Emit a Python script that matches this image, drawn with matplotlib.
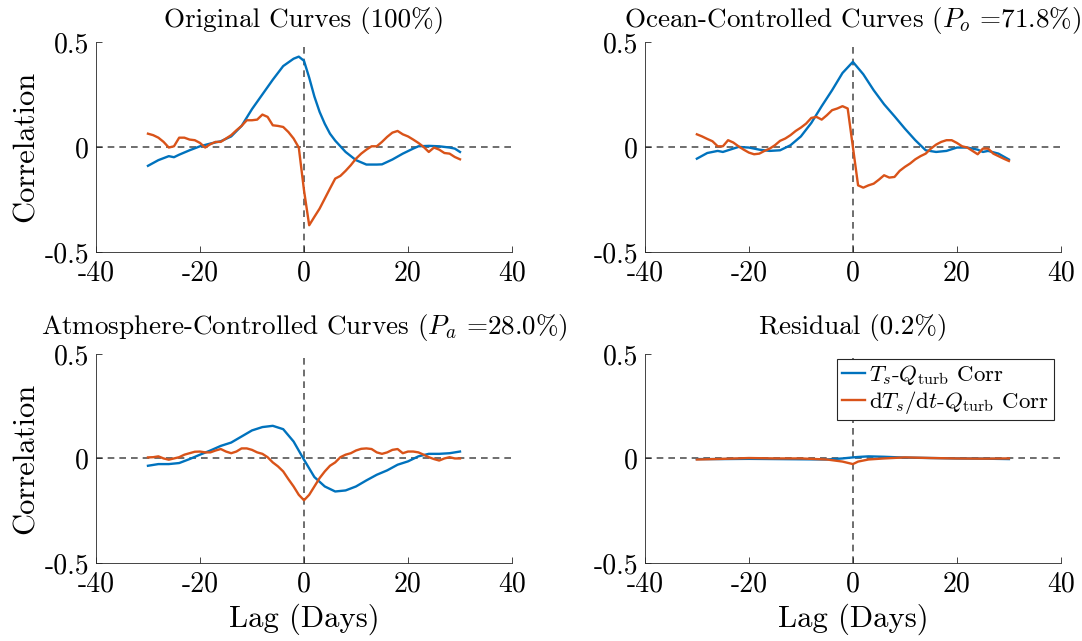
import matplotlib
matplotlib.use('Agg')
import matplotlib.pyplot as plt
import numpy as np

# values
lag_day = list(range(-30, 31))

orig_ts_lag = [-30, -28, -26, -25, -24, -22, -20, -18, -16, -14, -12, -10, -8, -6, -4, -2, -1, 0,
               1, 2, 3, 4, 5, 6, 7, 8, 10, 12, 14, 15, 17, 19, 21, 22, 24, 26, 28, 29, 30]
orig_ts = [-0.09, -0.063, -0.044, -0.049, -0.037, -0.016, 0.003, 0.016, 0.027, 0.05, 0.10, 0.18,
           0.25, 0.32, 0.385, 0.42, 0.43, 0.41, 0.33, 0.24, 0.167, 0.11, 0.063, 0.03, 0.003,
           -0.024, -0.063, -0.084, -0.084, -0.083, -0.06, -0.032, -0.008, 0.003, 0.005, 0.003,
           -0.003, -0.008, -0.024]
orig_dt = [0.063, 0.056, 0.044, 0.024, -0.003, 0.003, 0.044, 0.044, 0.035, 0.032, 0.019, -0.003,
           0.013, 0.024, 0.024, 0.04, 0.056, 0.079, 0.10, 0.127, 0.127, 0.13, 0.154, 0.143, 0.103,
           0.10, 0.095, 0.071, 0.04, -0.003, -0.206, -0.373, -0.333, -0.294, -0.246, -0.198,
           -0.151, -0.138, -0.114, -0.087, -0.056, -0.032, -0.013, 0.003, 0.003, 0.024, 0.048,
           0.068, 0.076, 0.06, 0.05, 0.035, 0.019, 0.0, -0.024, -0.003, -0.013, -0.029, -0.032,
           -0.048, -0.059]

ocean_ts_lag = [-30, -28, -26, -25, -24, -22, -20, -18, -16, -14, -12, -10, -8, -6, -4, -2, 0,
                2, 4, 6, 8, 10, 12, 14, 16, 18, 20, 22, 24, 25, 26, 28, 30]
ocean_ts = [-0.056, -0.029, -0.019, -0.024, -0.016, 0.0, -0.003, -0.013, -0.019, -0.016, 0.008,
            0.05, 0.114, 0.194, 0.27, 0.352, 0.405, 0.346, 0.27, 0.203, 0.146, 0.087, 0.032,
            -0.016, -0.024, -0.019, -0.003, -0.003, -0.013, -0.024, -0.019, -0.032, -0.06]
ocean_dt = [0.06, 0.05, 0.038, 0.027, 0.003, 0.003, 0.032, 0.021, 0.003, -0.013, -0.027, -0.035,
            -0.032, -0.019, -0.008, 0.008, 0.029, 0.04, 0.056, 0.076, 0.092, 0.111, 0.138, 0.143,
            0.13, 0.151, 0.175, 0.183, 0.194, 0.183, 0.0, -0.183, -0.194, -0.183, -0.175, -0.156,
            -0.135, -0.146, -0.143, -0.114, -0.095, -0.079, -0.059, -0.044, -0.032, -0.008, 0.011,
            0.024, 0.032, 0.032, 0.019, 0.003, -0.003, -0.019, -0.035, -0.008, -0.008, -0.032,
            -0.044, -0.056, -0.067]

atm_ts_lag = list(range(-30, 31, 2))
atm_ts = [-0.035, -0.027, -0.027, -0.022, -0.003, 0.018, 0.038, 0.06, 0.076, 0.105, 0.134, 0.15,
          0.156, 0.14, 0.081, -0.006, -0.089, -0.134, -0.158, -0.153, -0.134, -0.105, -0.078,
          -0.057, -0.03, -0.014, 0.01, 0.022, 0.022, 0.025, 0.033]
atm_dt = [0.005, 0.006, 0.01, 0.0, -0.006, 0.0, 0.006, 0.018, 0.025, 0.032, 0.033, 0.029, 0.029,
          0.038, 0.045, 0.033, 0.025, 0.033, 0.048, 0.048, 0.041, 0.029, 0.022, 0.006, -0.019,
          -0.038, -0.062, -0.099, -0.134, -0.174, -0.2, -0.174, -0.134, -0.094, -0.062, -0.035,
          -0.019, 0.006, 0.018, 0.025, 0.038, 0.046, 0.048, 0.045, 0.029, 0.022, 0.029, 0.041,
          0.045, 0.025, 0.033, 0.033, 0.029, 0.018, 0.006, -0.003, -0.01, 0.0, 0.006, 0.0, 0.0]

res_lag = [-30, -25, -20, -15, -10, -5, -2, 0, 1, 3, 6, 10, 15, 20, 25, 30]
res_ts = [-0.003, -0.003, -0.002, -0.003, -0.004, -0.005, 0.0, 0.005, 0.007, 0.01, 0.008,
          0.004, 0.002, 0.0, -0.001, -0.003]
res_dt = [-0.005, -0.002, 0.002, 0.0, 0.0, -0.005, -0.015, -0.027, -0.015, -0.005, 0.0, 0.005,
          0.002, 0.0, -0.001, 0.0]

titles = ['Original Curves (100%)',
          r'Ocean-Controlled Curves ($P_o$ =71.8%)',
          r'Atmosphere-Controlled Curves ($P_a$ =28.0%)',
          'Residual (0.2%)']

plt.rcParams['font.family'] = 'serif'
plt.rcParams['font.serif'] = ['cmr10']
plt.rcParams['mathtext.fontset'] = 'cm'
plt.rcParams['axes.unicode_minus'] = False

blue = '#0072BD'
orange = '#D95319'
axcol = '#262626'

fig = plt.figure(figsize=(10.82, 6.41), dpi=100)
positions = [[0.0887, 0.607, 0.3845, 0.3276],
             [0.596, 0.607, 0.3845, 0.3276],
             [0.0887, 0.1217, 0.3845, 0.3262],
             [0.596, 0.1217, 0.3845, 0.3262]]
panels = [(orig_ts_lag, orig_ts, lag_day, orig_dt),
          (ocean_ts_lag, ocean_ts, lag_day, ocean_dt),
          (atm_ts_lag, atm_ts, lag_day, atm_dt),
          (res_lag, res_ts, res_lag, res_dt)]

for i, (pos, (xa, ya, xb, yb)) in enumerate(zip(positions, panels)):
    ax = fig.add_axes(pos)
    ax.axhline(0, color='#555555', ls=(0, (4, 3)), lw=1.2, zorder=1)
    ax.axvline(0, color='#555555', ls=(0, (4, 3)), lw=1.2, zorder=1)
    ax.plot(xa, ya, color=blue, lw=1.7, label=r'$T_s$-$Q_{\rm turb}$ Corr', zorder=3)
    ax.plot(xb, yb, color=orange, lw=1.7, label=r'd$T_s/$d$t$-$Q_{\rm turb}$ Corr', zorder=3)
    ax.set_xlim(-40, 40)
    ax.set_ylim(-0.5, 0.5)
    ax.set_xticks([-40, -20, 0, 20, 40])
    ax.set_xticklabels(['-40', '-20', '0', '20', '40'])
    ax.set_yticks([-0.5, 0, 0.5])
    ax.set_yticklabels(['-0.5', '0', '0.5'])
    for s in ['top', 'right']:
        ax.spines[s].set_visible(False)
    for s in ['left', 'bottom']:
        ax.spines[s].set_color(axcol)
        ax.spines[s].set_linewidth(0.6)
    ax.tick_params(direction='in', length=4, width=0.6, colors=axcol, labelsize=20,
                   labelcolor='black')
    ax.tick_params(axis='x', pad=6)
    ax.tick_params(axis='y', pad=5)
    ax.set_title(titles[i], fontsize=19.5, pad=11 if i < 2 else 14)
    if i % 2 == 0:
        ax.set_ylabel('Correlation', fontsize=22, labelpad=3)
    if i >= 2:
        ax.set_xlabel('Lag (Days)', fontsize=22, labelpad=4)
    if i == 3:
        leg = ax.legend(loc='upper right', fontsize=16.5, handlelength=1.0, handletextpad=0.2,
                        borderpad=0.2, labelspacing=0.05, fancybox=False, framealpha=1,
                        borderaxespad=0, bbox_to_anchor=(0.983, 0.976))
        leg.get_frame().set_edgecolor(axcol)
        leg.get_frame().set_linewidth(0.8)

fig.savefig('out.png', dpi=100)
